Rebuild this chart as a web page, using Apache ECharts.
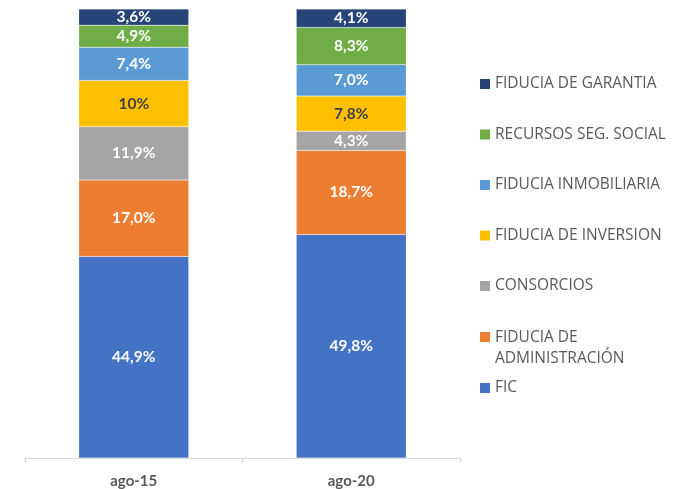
<!DOCTYPE html>
<html>
<head>
<meta charset="utf-8">
<script src="https://cdn.jsdelivr.net/npm/echarts@6/dist/echarts.min.js"></script>
<style>
  html, body { margin: 0; padding: 0; background: #fff; }
  #grafico { width: 679px; height: 489px; }
</style>
</head>
<body>
<div id="grafico"></div>
<script>
// datos (porcentaje de participacion)
var periodos = ['ago-15', 'ago-20'];

var fic = [44.9, 49.8];
var fiduciaAdministracion = [17.0, 18.7];
var consorcios = [11.9, 4.3];
var fiduciaInversion = [10.3, 7.8];
var fiduciaInmobiliaria = [7.4, 7.0];
var recursosSegSocial = [4.9, 8.3];
var fiduciaGarantia = [3.6, 4.1];

// el grafico original muestra "10%" para este valor
var etiquetasInversion = ['10%', '7,8%'];

var colores = {
    'FIC': '#4472C4',
    'FIDUCIA DE ADMINISTRACIÓN': '#ED7D31',
    'CONSORCIOS': '#A5A5A5',
    'FIDUCIA DE INVERSION': '#FFC000',
    'FIDUCIA INMOBILIARIA': '#5B9BD5',
    'RECURSOS SEG. SOCIAL': '#70AD47',
    'FIDUCIA DE GARANTIA': '#264478'
};

function formato(v) {
    return v.toFixed(1).replace('.', ',') + '%';
}

function serie(nombre, datos, colorTexto, etiquetas) {
    return {
        name: nombre,
        type: 'bar',
        stack: 'total',
        barWidth: 110,
        data: datos,
        itemStyle: {
            color: colores[nombre],
            borderColor: 'rgba(255,255,255,0.35)',
            borderWidth: 0.5
        },
        label: {
            show: true,
            position: 'inside',
            color: colorTexto,
            fontFamily: 'Lato',
            fontWeight: 'bold',
            fontSize: 15.5,
            formatter: function (p) {
                return etiquetas ? etiquetas[p.dataIndex] : formato(p.value);
            }
        }
    };
}

var textoLeyenda = {
    color: '#595959',
    fontFamily: 'Open Sans',
    fontSize: 15.5,
    lineHeight: 21
};

// leyenda base: cuadro de 10px, sin relleno
function leyenda(top, nombres, extra) {
    var l = {
        orient: 'vertical',
        left: 480,
        top: top,
        padding: 0,
        itemWidth: 10,
        itemHeight: 10,
        itemGap: 29.5,
        icon: 'rect',
        itemStyle: { borderWidth: 0 },
        textStyle: textoLeyenda,
        data: nombres
    };
    for (var k in extra) l[k] = extra[k];
    return l;
}

var myChart = echarts.init(document.getElementById('grafico'));

var option = {
    animation: false,
    grid: { left: 25, right: 219, top: 9, bottom: 31 },
    legend: [
        leyenda(73.5, ['FIDUCIA DE GARANTIA', 'RECURSOS SEG. SOCIAL', 'FIDUCIA INMOBILIARIA',
            'FIDUCIA DE INVERSION', 'CONSORCIOS']),
        // el cuadro queda alineado con la primera linea del texto
        leyenda(327, ['FIDUCIA DE ADMINISTRACIÓN'], {
            itemHeight: 32,
            icon: 'path://M0,0L10,0L10,10L0,10Z M0,32L0,32',
            formatter: function () {
                return 'FIDUCIA DE\nADMINISTRACIÓN';
            }
        }),
        leyenda(377.5, ['FIC'])
    ],
    xAxis: {
        type: 'category',
        data: periodos,
        axisLine: { lineStyle: { color: '#D9D9D9', width: 1 } },
        axisTick: { show: true, length: 5, lineStyle: { color: '#D9D9D9' } },
        axisLabel: {
            color: '#595959',
            fontFamily: 'Lato',
            fontWeight: 'bold',
            fontSize: 15,
            margin: 16
        }
    },
    yAxis: {
        type: 'value',
        min: 0,
        max: 100,
        show: false,
        splitLine: { show: false }
    },
    series: [
        serie('FIC', fic, '#ffffff'),
        serie('FIDUCIA DE ADMINISTRACIÓN', fiduciaAdministracion, '#ffffff'),
        serie('CONSORCIOS', consorcios, '#ffffff'),
        serie('FIDUCIA DE INVERSION', fiduciaInversion, '#404040', etiquetasInversion),
        serie('FIDUCIA INMOBILIARIA', fiduciaInmobiliaria, '#ffffff'),
        serie('RECURSOS SEG. SOCIAL', recursosSegSocial, '#ffffff'),
        serie('FIDUCIA DE GARANTIA', fiduciaGarantia, '#ffffff')
    ]
};

myChart.setOption(option);
window.addEventListener('resize', function () {
    myChart.resize();
});
</script>
</body>
</html>
